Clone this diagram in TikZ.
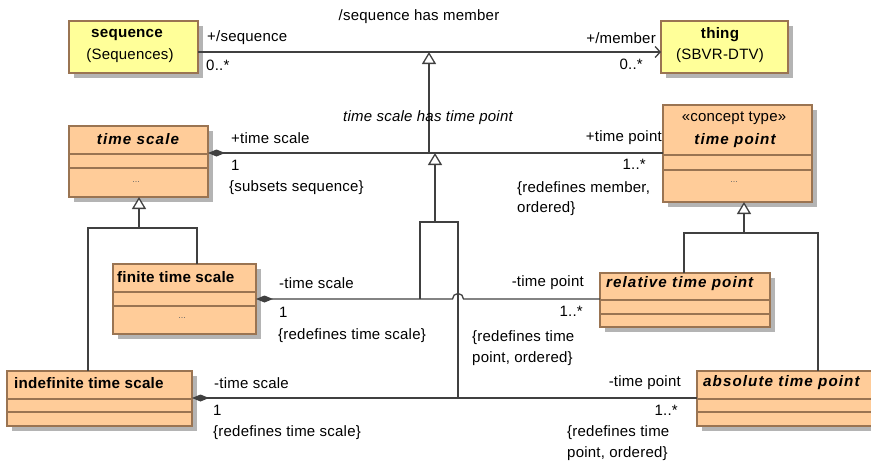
\documentclass[tikz,border=0pt]{standalone}
\usepackage{fontspec}
\setmainfont{Liberation Sans}
\newfontfamily\spacedfont[LetterSpace=7]{Liberation Sans}
\newfontfamily\widefont[LetterSpace=1.5]{Liberation Sans}
\usetikzlibrary{arrows.meta}
\definecolor{ln}{HTML}{404040}
\definecolor{bord}{HTML}{9A7452}
\definecolor{yel}{HTML}{FFFF99}
\definecolor{org}{HTML}{FFCC99}
\definecolor{shd}{HTML}{B4B4B4}
\tikzset{
  box/.style={draw=bord, line width=1.2pt, inner sep=0pt, outer sep=0pt, anchor=north west},
  divider/.style={draw=bord, line width=1.2pt},
  lbl/.style={font=\fontsize{15}{17}\selectfont\widefont, inner sep=0pt, text=black},
  ttl/.style={lbl, font=\fontsize{15.2}{17}\selectfont\widefont\bfseries},
  ttli/.style={lbl, font=\fontsize{15.2}{17}\selectfont\spacedfont\bfseries\itshape},
  dots/.style={inner sep=0pt, font=\fontsize{9}{9}\selectfont, text=black!60},
  conn/.style={draw=ln, line width=1.3pt},
  gen/.style={conn, -{Triangle[open, length=12pt, width=14pt, fill=white]}},
  nav/.style={conn, -{Straight Barb[length=5pt, width=11pt]}},
  comp/.style={conn, {Diamond[length=17pt, width=7pt, fill=ln]}-},
}
\newcommand\umlbox[6]{%
  \fill[shd] (#2+5,#3+5) rectangle ++(#4,#5);
  \node[box, fill=#6, minimum width=#4pt, minimum height=#5pt] (#1) at (#2,#3) {};
}
\begin{document}
\begin{tikzpicture}[x=1pt, y=-1pt]
\useasboundingbox (0,0) rectangle (871,464);
% boxes
\umlbox{seq}{69}{21}{129}{52}{yel}
\umlbox{thing}{661}{21}{127}{52}{yel}
\umlbox{ts}{69}{126}{139}{71}{org}
\draw[divider] (69,154) -- (208,154) (69,168) -- (208,168);
\umlbox{tp}{663}{105}{149}{97}{org}
\draw[divider] (663,155) -- (812,155) (663,170) -- (812,170);
\umlbox{fin}{113}{264}{143}{70}{org}
\draw[divider] (113,292) -- (256,292) (113,306) -- (256,306);
\umlbox{ind}{7}{371}{185}{55}{org}
\draw[divider] (7,399) -- (192,399) (7,412) -- (192,412);
\umlbox{rel}{600}{273}{170}{54}{org}
\draw[divider] (600,300) -- (770,300) (600,314) -- (770,314);
\umlbox{abs}{697}{371}{185}{55}{org}
\draw[divider] (697,399) -- (882,399) (697,412) -- (882,412);
% box texts
\node[ttl] (seqT) at (127,35) {sequence};
\node[lbl] (seqS) at (130,56) {(Sequences)};
\node[ttl] (thingT) at (720,35) {thing};
\node[lbl] (thingS) at (720,56) {(SBVR-DTV)};
\node[ttli] (tsT) at (138,139) {time scale};
\node[dots] (tsD) at (136,182) {...};
\node[lbl] (tpS) at (734,118) {«concept type»};
\node[ttli] (tpT) at (735,141) {time point};
\node[dots] (tpD) at (734,182) {...};
\node[ttl, anchor=west] (finT) at (117,277) {finite time scale};
\node[dots] (finD) at (182,318) {...};
\node[ttl, anchor=west] (indT) at (14,383) {indefinite time scale};
\node[ttli, anchor=west] (relT) at (606,284) {relative time point};
\node[ttli, anchor=west] (absT) at (703,383) {absolute time point};
% level coordinates
\coordinate (L1) at (0,52);
\coordinate (L2) at (0,153);
\coordinate (L3) at (0,299);
\coordinate (L4) at (0,398);
\coordinate (g1top) at (429,52);
\coordinate (g1bot) at (429,153);
\coordinate (g2top) at (435,153);
\coordinate (g2bot) at (435,222);
\coordinate (jl) at (420,222);
\coordinate (jr) at (458,222);
\coordinate (jl3) at (420,299);
\coordinate (jr4) at (458,398);
\coordinate (hopA) at (452.5,299);
\coordinate (tsj) at (139,228);
\coordinate (tpj) at (744,233);
% associations
\draw[nav] (seq.east |- L1) -- (thing.west |- L1);
\draw[comp] (ts.east |- L2) -- (tp.west |- L2);
\draw[comp] (fin.east |- L3) -- (hopA) arc[start angle=180, end angle=0, radius=5.5pt] -- (rel.west |- L3);
\draw[comp] (ind.east |- L4) -- (abs.west |- L4);
% generalizations of associations
\draw[gen] (g1bot) -- (g1top);
\draw[conn] (jl3) -- (jl) -- (jr) -- (jr4);
\draw[gen] (g2bot) -- (g2top);
% generalizations of classes
\draw[conn] ([xshift=81pt]ind.north west) |- (tsj) -| ([xshift=84pt]fin.north west);
\draw[gen] (tsj) -- (ts.south -| tsj);
\draw[conn] ([xshift=84pt]rel.north west) |- (tpj) -| ([xshift=121pt]abs.north west);
\draw[gen] (tpj) -- (tp.south -| tpj);
% association labels
\node[lbl] (n1) at (419,17) {/sequence has member};
\node[lbl, anchor=west] (r1a) at (207,38) {+/sequence};
\node[lbl, anchor=west] (m1a) at (206,65) {0..*};
\node[lbl, anchor=east] (r1b) at (656,38) {+/member};
\node[lbl, anchor=east] (m1b) at (643,64) {0..*};
\node[lbl, font=\fontsize{15}{17}\selectfont\widefont\itshape] (n2) at (428,118) {time scale has time point};
\node[lbl, anchor=west] (r2a) at (231,138) {+time scale};
\node[lbl, anchor=west] (m2a) at (231,165) {1};
\node[lbl, anchor=west] (c2a) at (229,188) {\{subsets sequence\}};
\node[lbl, anchor=east] (r2b) at (662,138) {+time point};
\node[lbl, anchor=east] (m2b) at (646,164) {1..*};
\node[lbl, anchor=west] (c2b) at (517,189) {\{redefines member,};
\node[lbl, anchor=west] (c2c) at (517,209) {ordered\}};
\node[lbl, anchor=west] (r3a) at (279,283) {-time scale};
\node[lbl, anchor=west] (m3a) at (279,312) {1};
\node[lbl, anchor=west] (c3a) at (278,336) {\{redefines time scale\}};
\node[lbl, anchor=east] (r3b) at (584,283) {-time point};
\node[lbl, anchor=east] (m3b) at (583,311) {1..*};
\node[lbl, anchor=west] (c3b) at (472,338) {\{redefines time};
\node[lbl, anchor=west] (c3c) at (472,359) {point, ordered\}};
\node[lbl, anchor=west] (r4a) at (214,383) {-time scale};
\node[lbl, anchor=west] (m4a) at (213,410) {1};
\node[lbl, anchor=west] (c4a) at (213,433) {\{redefines time scale\}};
\node[lbl, anchor=east] (r4b) at (681,383) {-time point};
\node[lbl, anchor=east] (m4b) at (678,410) {1..*};
\node[lbl, anchor=west] (c4b) at (567,433) {\{redefines time};
\node[lbl, anchor=west] (c4c) at (567,454) {point, ordered\}};
\end{tikzpicture}
\end{document}
